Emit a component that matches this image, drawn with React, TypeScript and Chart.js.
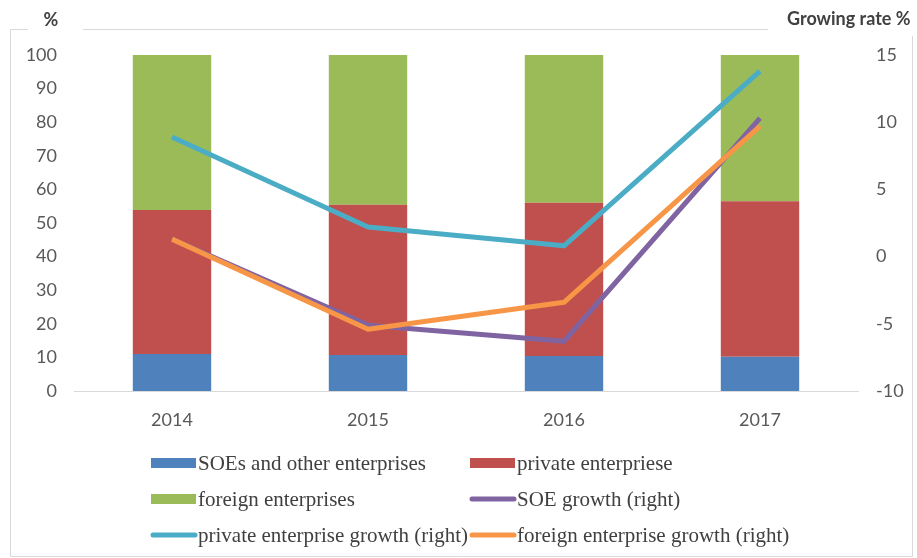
import React, { useEffect, useRef } from "react";
import { Chart, registerables } from "chart.js";
Chart.register(...registerables);

const categories = ["2014", "2015", "2016", "2017"];
const soeShare = [11.0, 10.7, 10.4, 10.2];
const privateShare = [42.9, 44.7, 45.6, 46.3];
const foreignShare = [46.1, 44.6, 44.0, 43.5];
const soeGrowth = [1.3, -5.1, -6.3, 10.3];
const privateGrowth = [8.9, 2.2, 0.8, 13.8];
const foreignGrowth = [1.3, -5.4, -3.4, 9.7];
const leftAxisTitle = "%";
const rightAxisTitle = "Growing rate %";
const seriesLabels = [
  "SOEs and other enterprises",
  "private enterpriese",
  "foreign enterprises",
  "SOE growth (right)",
  "private enterprise growth (right)",
  "foreign enterprise growth (right)",
];

const W = 917;
const H = 558;
const TICK_FONT = { family: "Lato, 'Open Sans', sans-serif", size: 18 };
const TICK_COLOR = "#595959";

const framePlugin = {
  id: "frameAndTitles",
  afterDraw(chart: any) {
    const ctx = chart.ctx;
    ctx.save();
    ctx.strokeStyle = "#d9d9d9";
    ctx.lineWidth = 1;
    ctx.beginPath();
    ctx.moveTo(28, 29.5);
    ctx.lineTo(10.5, 29.5);
    ctx.lineTo(10.5, 556.5);
    ctx.lineTo(912.5, 556.5);
    ctx.lineTo(912.5, 36);
    ctx.moveTo(83, 29.5);
    ctx.lineTo(768, 29.5);
    ctx.stroke();

    ctx.fillStyle = "#404040";
    ctx.font = "bold 18px Lato, 'Open Sans', sans-serif";
    ctx.textBaseline = "middle";
    ctx.textAlign = "center";
    ctx.fillText(leftAxisTitle, 51, 20);
    ctx.textAlign = "left";
    ctx.fillText(rightAxisTitle, 787, 19);
    ctx.restore();
  },
};

const legendPlugin = {
  id: "gridLegend",
  afterDraw(chart: any) {
    const ctx = chart.ctx;
    const colX = [151, 470];
    const rowY = [463, 499, 535];
    ctx.save();
    chart.data.datasets.forEach((ds: any, i: number) => {
      const x = colX[i % 2];
      const y = rowY[Math.floor(i / 2)];
      if (ds.type === "line") {
        ctx.strokeStyle = ds.borderColor;
        ctx.lineWidth = 5;
        ctx.lineCap = "round";
        ctx.beginPath();
        ctx.moveTo(x + 2, y);
        ctx.lineTo(x + 44, y);
        ctx.stroke();
      } else {
        ctx.fillStyle = ds.backgroundColor;
        ctx.fillRect(x, y - 5, 45, 10);
      }
      ctx.fillStyle = "#404040";
      ctx.font = "21px 'Liberation Serif', 'Times New Roman', serif";
      ctx.textBaseline = "middle";
      ctx.textAlign = "left";
      ctx.fillText(ds.label, x + 47, y + 1);
    });
    ctx.restore();
  },
};

export default function App() {
  const ref = useRef<HTMLCanvasElement>(null);
  useEffect(() => {
    document.body.style.margin = "0";
    const canvas = ref.current!;
    const barCommon = { type: "bar", yAxisID: "y", stack: "s", order: 2, barPercentage: 0.4, categoryPercentage: 1 };
    const lineCommon = { type: "line", yAxisID: "y1", borderWidth: 5, pointRadius: 0, tension: 0, fill: false, borderJoinStyle: "round" };
    const chart = new Chart(canvas, {
      type: "bar",
      data: {
        labels: categories,
        datasets: [
          { ...barCommon, label: seriesLabels[0], data: soeShare, backgroundColor: "#4F81BD" },
          { ...barCommon, label: seriesLabels[1], data: privateShare, backgroundColor: "#C0504D" },
          { ...barCommon, label: seriesLabels[2], data: foreignShare, backgroundColor: "#9BBB59" },
          { ...lineCommon, label: seriesLabels[3], data: soeGrowth, borderColor: "#8064A2", order: 1 },
          { ...lineCommon, label: seriesLabels[4], data: privateGrowth, borderColor: "#4BACC6", order: 1 },
          { ...lineCommon, label: seriesLabels[5], data: foreignGrowth, borderColor: "#F79646", order: 0 },
        ] as any,
      },
      options: {
        responsive: false,
        animation: false,
        layout: { padding: { top: 55, left: 0, right: 0, bottom: 0 } },
        plugins: { legend: { display: false }, tooltip: { enabled: false } },
        scales: {
          x: {
            stacked: true,
            grid: { display: false, drawTicks: false },
            border: { display: true, color: "#d9d9d9", width: 1 },
            ticks: { font: TICK_FONT, color: TICK_COLOR, padding: 18 },
            afterFit: (s: any) => { s.height = H - 391; },
          },
          y: {
            position: "left",
            stacked: true,
            min: 0,
            max: 100,
            grid: { display: false, drawTicks: false },
            border: { display: false },
            ticks: { stepSize: 10, font: TICK_FONT, color: TICK_COLOR, padding: 17 },
            afterFit: (s: any) => { s.width = 74; },
          },
          y1: {
            position: "right",
            min: -10,
            max: 15,
            grid: { display: false, drawTicks: false },
            border: { display: false },
            ticks: { stepSize: 5, font: TICK_FONT, color: TICK_COLOR, padding: 18 },
            afterFit: (s: any) => { s.width = W - 858; },
          },
        },
      },
      plugins: [framePlugin, legendPlugin],
    } as any);
    return () => chart.destroy();
  }, []);
  return <canvas ref={ref} width={W} height={H} style={{ display: "block" }} />;
}
